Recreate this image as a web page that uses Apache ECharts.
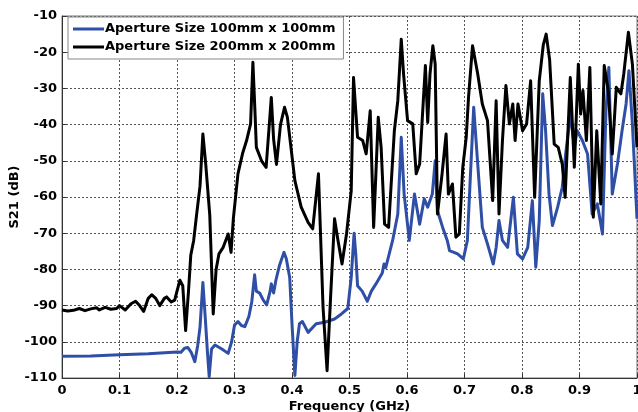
<!DOCTYPE html>
<html>
<head>
<meta charset="utf-8">
<script src="https://cdn.jsdelivr.net/npm/echarts@6/dist/echarts.min.js"></script>
<style>
html, body { margin: 0; padding: 0; background: #fff; }
#chart { width: 638px; height: 412px; }
</style>
</head>
<body>
<div id="chart"></div>
<script>
// S21 vs frequency, two aperture sizes
var seriesNames = ['Aperture Size 100mm x 100mm', 'Aperture Size 200mm x 200mm'];

var aperture100 = [
    [0,-104],[0.05,-103.9],[0.1,-103.6],[0.15,-103.3],[0.2,-102.8],[0.207,-102.9],[0.213,-101.8],
    [0.219,-101.6],[0.225,-103],[0.231,-105.5],[0.236,-101],[0.24,-96],[0.245,-83.6],[0.249,-93],
    [0.253,-103],[0.256,-109.6],[0.26,-102],[0.266,-100.9],[0.278,-102],[0.289,-103.2],[0.295,-100],
    [0.3,-95.4],[0.306,-94.4],[0.312,-95.5],[0.318,-95.8],[0.325,-93],[0.33,-89],[0.335,-81.5],
    [0.338,-86],[0.344,-86.6],[0.35,-88.5],[0.356,-89.8],[0.362,-86],[0.364,-84],[0.368,-86.5],
    [0.372,-83],[0.378,-79],[0.386,-75.3],[0.39,-77],[0.396,-82.2],[0.4,-95],[0.405,-109.3],
    [0.409,-100],[0.413,-95],[0.418,-94.4],[0.428,-97.4],[0.442,-95],[0.457,-94.6],[0.474,-93.7],
    [0.486,-92.3],[0.497,-90.8],[0.503,-82.2],[0.508,-70],[0.511,-76],[0.514,-84.5],[0.522,-86],
    [0.531,-88.8],[0.538,-86],[0.546,-84],[0.557,-81],[0.56,-78.5],[0.563,-79.5],[0.575,-72],
    [0.584,-64.7],[0.59,-43.5],[0.595,-59.2],[0.604,-72],[0.613,-59.2],[0.622,-67.5],[0.63,-60.5],
    [0.636,-62.8],[0.644,-59.2],[0.649,-50],[0.653,-63.8],[0.662,-68.4],[0.67,-72],[0.674,-74.8],
    [0.688,-75.7],[0.698,-77.1],[0.705,-72],[0.71,-55],[0.716,-35.2],[0.723,-50.9],[0.731,-68.4],
    [0.74,-73],[0.75,-78.5],[0.755,-74],[0.76,-66.5],[0.766,-72],[0.775,-73.9],[0.785,-60.1],
    [0.792,-75.7],[0.801,-77.1],[0.81,-73.9],[0.818,-61],[0.824,-79.4],[0.83,-66.5],[0.836,-31.5],
    [0.841,-41.7],[0.847,-59.2],[0.853,-67.9],[0.862,-62.8],[0.87,-57.3],[0.876,-48.1],[0.884,-37.1],
    [0.891,-46.3],[0.896,-41.7],[0.905,-44.4],[0.914,-48.1],[0.922,-64.7],[0.931,-61.9],[0.94,-70.2],
    [0.946,-36.2],[0.951,-24.2],[0.957,-59.2],[0.966,-50.9],[0.974,-41.7],[0.981,-34.3],[0.986,-25.1],
    [0.992,-39.8],[1,-66]
];

var aperture200 = [
    [0,-91.2],[0.01,-91.5],[0.02,-91.3],[0.03,-90.8],[0.04,-91.4],[0.05,-90.9],[0.06,-90.6],
    [0.065,-91.2],[0.075,-90.5],[0.085,-91],[0.095,-90.8],[0.1,-90],[0.11,-91.2],[0.12,-89.5],
    [0.128,-88.8],[0.135,-90],[0.142,-91.6],[0.15,-88],[0.156,-87],[0.163,-88],[0.17,-90],
    [0.178,-88],[0.182,-87.6],[0.19,-89],[0.196,-88.5],[0.2,-86],[0.205,-83],[0.21,-84.5],
    [0.215,-96.9],[0.22,-86],[0.224,-76],[0.229,-72],[0.234,-65],[0.24,-57],[0.245,-42.6],
    [0.25,-51],[0.257,-65],[0.263,-92.3],[0.268,-80],[0.273,-75.7],[0.28,-74],[0.289,-70.2],
    [0.294,-75.3],[0.298,-66],[0.306,-53.6],[0.314,-48],[0.321,-44.4],[0.328,-39.8],[0.332,-22.8],
    [0.336,-38],[0.338,-46.3],[0.347,-50],[0.355,-51.8],[0.364,-32.5],[0.368,-44],[0.373,-51],
    [0.38,-40],[0.387,-35.2],[0.392,-38],[0.398,-46],[0.405,-55.5],[0.416,-62.8],[0.428,-67],
    [0.436,-68.8],[0.446,-53.6],[0.454,-90.5],[0.461,-108],[0.467,-88],[0.474,-66],[0.48,-72],
    [0.487,-78.5],[0.495,-70],[0.503,-58.3],[0.507,-27],[0.514,-43.5],[0.523,-44.4],[0.529,-48.1],
    [0.536,-36.2],[0.542,-68.4],[0.55,-38],[0.555,-46.3],[0.561,-67.5],[0.568,-68.4],[0.578,-41.7],
    [0.584,-33.4],[0.59,-16.4],[0.594,-26],[0.601,-38.9],[0.61,-39.8],[0.616,-53.6],[0.622,-50.9],
    [0.627,-37.1],[0.632,-23.7],[0.636,-39.4],[0.64,-26],[0.645,-18.2],[0.649,-23.3],[0.653,-64.7],
    [0.661,-53.6],[0.668,-42.6],[0.672,-59.2],[0.679,-56.4],[0.685,-71.1],[0.691,-70.2],[0.697,-51.8],
    [0.703,-43.5],[0.707,-32.5],[0.714,-18.2],[0.723,-26],[0.731,-34.3],[0.74,-38.9],[0.749,-61],
    [0.755,-33.4],[0.76,-64.7],[0.766,-44.4],[0.772,-29.2],[0.778,-39.8],[0.784,-34.3],[0.788,-44.4],
    [0.793,-34.3],[0.801,-41.7],[0.808,-39.8],[0.815,-27.9],[0.822,-60.1],[0.83,-27.9],[0.837,-18],
    [0.842,-15],[0.848,-22],[0.856,-45.4],[0.863,-46.3],[0.87,-50.9],[0.875,-60.1],[0.884,-27],
    [0.891,-51.8],[0.898,-23.3],[0.902,-37.1],[0.906,-30.6],[0.912,-44.4],[0.918,-24.2],[0.924,-65.6],
    [0.93,-41.7],[0.937,-61.9],[0.943,-23.7],[0.95,-30.6],[0.957,-48.1],[0.964,-29.7],[0.972,-31.5],
    [0.977,-26],[0.985,-14.5],[0.992,-23.3],[1,-46.3]
];

var font = 'DejaVu Sans, Liberation Sans, sans-serif';
var myChart = echarts.init(document.getElementById('chart'));

var option = {
    animation: false,
    backgroundColor: '#fff',
    grid: {
        left: 62, top: 16, right: 1, bottom: 34,
        outerBoundsMode: 'none',
        containLabel: false,
        show: true,
        borderColor: '#777',
        borderWidth: 1
    },
    legend: {
        orient: 'vertical',
        left: 68, top: 17,
        padding: [4, 8, 4, 5],
        itemGap: 2,
        itemWidth: 31,
        itemHeight: 3,
        icon: 'rect',
        backgroundColor: '#fff',
        borderColor: '#888',
        borderWidth: 1,
        borderRadius: 0,
        textStyle: { fontFamily: font, fontWeight: 'bold', fontSize: 13, color: '#000', padding: [0, 0, 0, -4], lineHeight: 16 },
        data: seriesNames
    },
    xAxis: {
        type: 'value',
        min: 0, max: 1, interval: 0.1,
        name: 'Frequency (GHz)',
        nameLocation: 'middle',
        nameGap: 22,
        nameMoveOverlap: false,
        nameTextStyle: { fontFamily: font, fontWeight: 'bold', fontSize: 13, color: '#000', verticalAlign: 'top' },
        axisLine: { lineStyle: { color: '#333', width: 1 } },
        axisTick: { inside: true, length: 4, lineStyle: { color: '#333' } },
        axisLabel: { fontFamily: font, fontWeight: 'bold', fontSize: 13, color: '#000', margin: 6 },
        splitLine: { show: true, lineStyle: { color: '#555', type: [2, 2], width: 1 } }
    },
    yAxis: {
        type: 'value',
        min: -110, max: -10, interval: 10,
        name: 'S21 (dB)',
        nameLocation: 'middle',
        nameGap: 41,
        nameMoveOverlap: false,
        nameTextStyle: { fontFamily: font, fontWeight: 'bold', fontSize: 13, color: '#000' },
        axisLine: { show: true, lineStyle: { color: '#333', width: 1 } },
        axisTick: { show: true, inside: true, length: 4, lineStyle: { color: '#333' } },
        axisLabel: { fontFamily: font, fontWeight: 'bold', fontSize: 13, color: '#000', margin: 5 },
        splitLine: { show: true, lineStyle: { color: '#555', type: [2, 2], width: 1 } }
    },
    series: [
        {
            name: seriesNames[0],
            type: 'line',
            data: aperture100,
            symbol: 'none',
            color: '#2f4fa6',
            lineStyle: { width: 3, color: '#2f4fa6', join: 'round' },
            z: 2
        },
        {
            name: seriesNames[1],
            type: 'line',
            data: aperture200,
            symbol: 'none',
            color: '#000',
            lineStyle: { width: 3, color: '#000', join: 'round' },
            z: 3
        }
    ]
};

myChart.setOption(option);
</script>
</body>
</html>
